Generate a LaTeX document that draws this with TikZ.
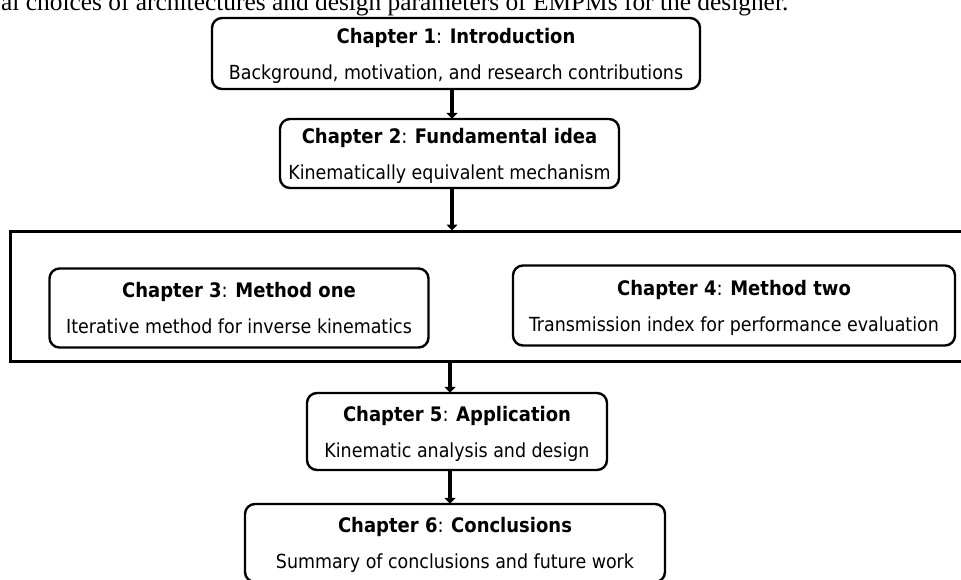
\documentclass[tikz,border=0pt]{standalone}
\usepackage{fontspec}
\setmainfont{DejaVu Sans Condensed}
\newfontfamily\topserif{Liberation Serif}
\usetikzlibrary{arrows.meta,calc}
\tikzset{
  chapbox/.style={draw, line width=2.4pt, rounded corners=10pt, align=center,
    inner sep=0pt, font=\fontsize{19.4}{24}\selectfont, text depth=0pt},
  groupbox/.style={draw, line width=3pt, inner sep=0pt},
  arr/.style={line width=4pt, -{Triangle[width=11pt,length=6pt]}, shorten >=-1pt},
}
\newcommand{\chap}[3]{{\fontsize{20}{24}\selectfont\textbf{Chapter #1}: \textbf{#2}}\\[12pt]#3}
\begin{document}
\begin{tikzpicture}[x=1pt,y=1pt]
\useasboundingbox (0,0) rectangle (961,-579);
\node[anchor=base west, font=\topserif\fontsize{25.4}{28}\selectfont, inner sep=0pt] (top) at (1,-10)
  {al choices of architectures and design parameters of EMPMs for the designer.};
\node[chapbox, minimum width=488pt, minimum height=71pt] (c1) at (456,-53.5)
  {\chap{1}{Introduction}{Background, motivation, and research contributions}};
\node[chapbox, minimum width=339pt, minimum height=69pt] (c2) at (449.5,-153.5)
  {\chap{2}{Fundamental idea}{Kinematically equivalent mechanism}};
\node[groupbox, minimum width=970pt, minimum height=130pt] (grp) at (495,-296) {};
\node[chapbox, minimum width=379pt, minimum height=79pt] (c3) at (239,-308)
  {\chap{3}{Method one}{Iterative method for inverse kinematics}};
\node[chapbox, minimum width=442pt, minimum height=80pt] (c4) at (734,-305.5)
  {\chap{4}{Method two}{Transmission index for performance evaluation}};
\node[chapbox, minimum width=300pt, minimum height=77pt] (c5) at (457,-431.5)
  {\chap{5}{Application}{Kinematic analysis and design}};
\node[chapbox, minimum width=420pt, minimum height=78pt] (c6) at (455,-543)
  {\chap{6}{Conclusions}{Summary of conclusions and future work}};
\draw[arr] ([xshift=-4pt]c1.south) -- ([xshift=2.5pt]c2.north);
\draw[arr] ([xshift=2.5pt]c2.south) -- ([xshift=2.5pt]c2.south |- grp.north);
\draw[arr] ([xshift=-45pt]grp.south) -- ([xshift=-7pt]c5.north);
\draw[arr] ([xshift=-7pt]c5.south) -- ([xshift=-5pt]c6.north);
\end{tikzpicture}
\end{document}
